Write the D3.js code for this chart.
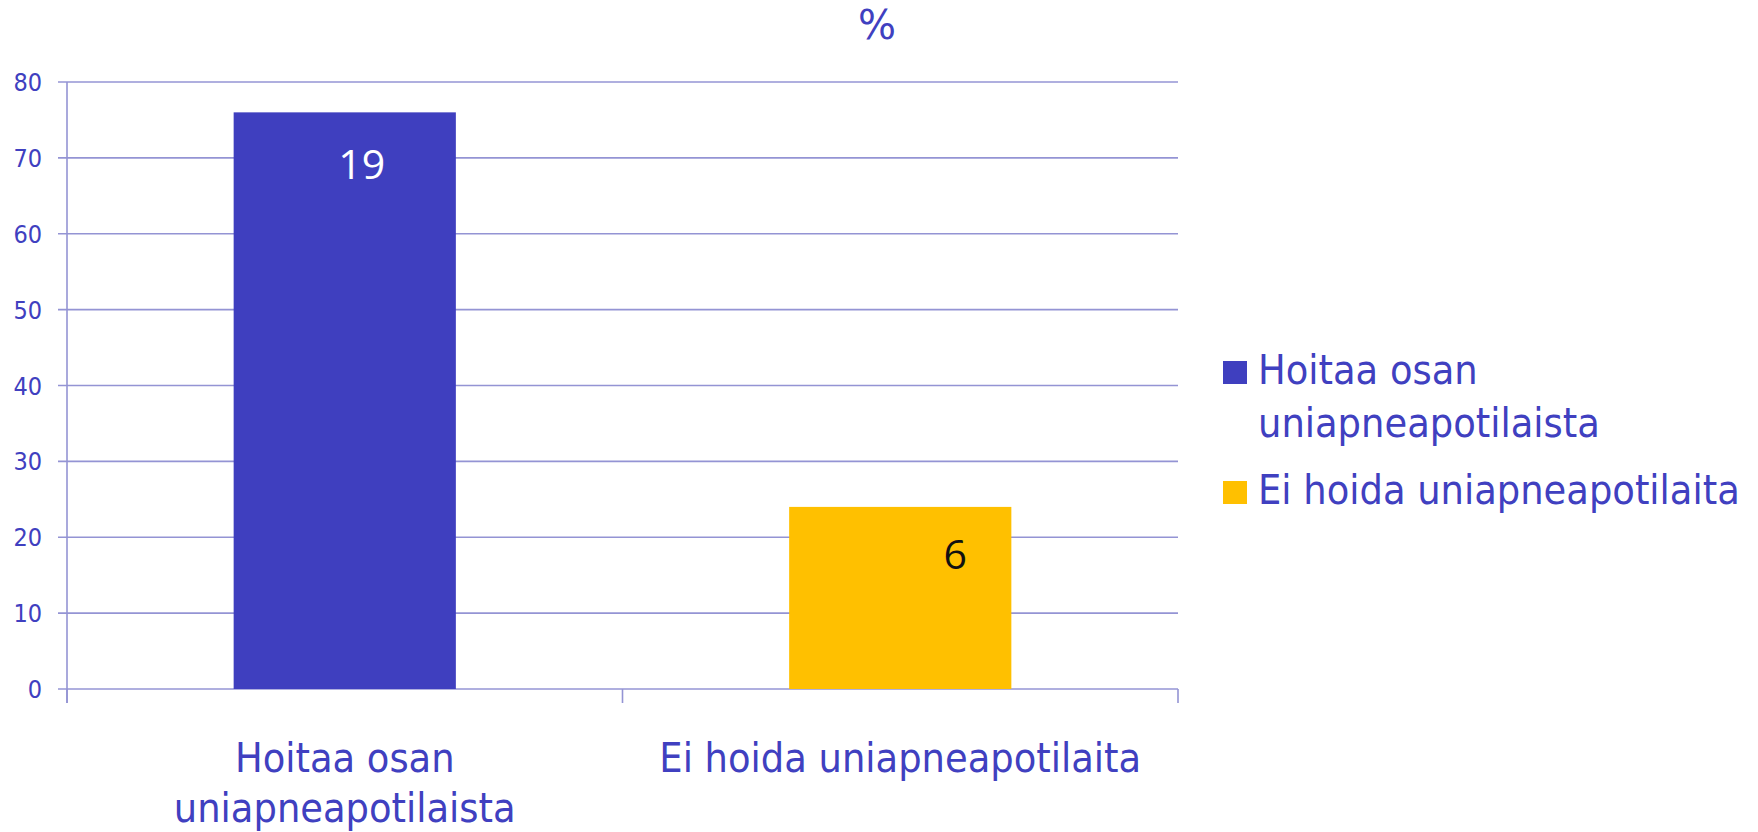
<!DOCTYPE html>
<html>
<head>
<meta charset="utf-8">
<script src="https://cdn.jsdelivr.net/npm/d3@7"></script>
<style>
  body { margin: 0; background: #fff; }
  svg { display: block; }
  text { font-family: "DejaVu Sans Condensed", "DejaVu Sans", sans-serif; font-stretch: condensed; fill: #4040c0; }
</style>
</head>
<body>
<div id="chart"></div>
<script>
// chart data
const categories = ["Hoitaa osan uniapneapotilaista", "Ei hoida uniapneapotilaita"];
const categoryLines = [["Hoitaa osan", "uniapneapotilaista"], ["Ei hoida uniapneapotilaita"]];
const percentValues = [76, 24];
const countLabels = ["19", "6"];
const yTicks = [0, 10, 20, 30, 40, 50, 60, 70, 80];
const titleText = "%";

class BarChart {
	constructor(){
		this.width = 1758;
		this.height = 832;
		this.plot = {left: 67, right: 1178, top: 82, bottom: 689};
		this.initVis();
	}

	initVis() {
		let vis = this;

		vis.svg = d3.select("#chart")
			.append("svg")
			  .attr("width", vis.width)
			  .attr("height", vis.height);

		vis.xScale = d3.scaleBand()
			.domain(categories)
			.range([vis.plot.left, vis.plot.right])
			.paddingInner(0.6)
			.paddingOuter(0.3);

		vis.yScale = d3.scaleLinear()
			.domain([0, 80])
			.range([vis.plot.bottom, vis.plot.top]);

		vis.color = d3.scaleOrdinal()
			.domain(categories)
			.range(["#3f3fbf", "#ffc000"]);

		vis.renderVis();
	}

	renderVis() {
		let vis = this;
		let gridColor = "#9494d4";

		// gridlines + y ticks
		vis.svg.append("g")
			.selectAll("line")
			.data(yTicks)
			.join("line")
			  .attr("x1", vis.plot.left - 9)
			  .attr("x2", vis.plot.right)
			  .attr("y1", d => vis.yScale(d))
			  .attr("y2", d => vis.yScale(d))
			  .attr("stroke", gridColor)
			  .attr("stroke-width", 1.6);

		vis.svg.append("g")
			.selectAll("text")
			.data(yTicks)
			.join("text")
			  .attr("x", 42)
			  .attr("y", d => vis.yScale(d))
			  .attr("dy", "0.36em")
			  .attr("text-anchor", "end")
			  .style("font-size", "25px")
			  .text(d => d);

		// y axis line
		vis.svg.append("line")
			.attr("x1", vis.plot.left).attr("x2", vis.plot.left)
			.attr("y1", vis.plot.top).attr("y2", vis.plot.bottom + 14)
			.attr("stroke", gridColor)
			.attr("stroke-width", 1.6);

		// x axis ticks at category edges
		let edges = categories.map(c => vis.xScale(c) - vis.xScale.step() * vis.xScale.paddingOuter())
			.concat([vis.plot.right]);
		vis.svg.append("g")
			.selectAll("line")
			.data(edges)
			.join("line")
			  .attr("x1", d => d).attr("x2", d => d)
			  .attr("y1", vis.plot.bottom)
			  .attr("y2", vis.plot.bottom + 14)
			  .attr("stroke", gridColor)
			  .attr("stroke-width", 1.6);

		// bars
		vis.svg.append("g")
			.selectAll("rect")
			.data(categories)
			.join("rect")
			  .attr("x", d => vis.xScale(d))
			  .attr("y", (d, i) => vis.yScale(percentValues[i]))
			  .attr("width", vis.xScale.bandwidth())
			  .attr("height", (d, i) => vis.yScale(0) - vis.yScale(percentValues[i]))
			  .style("fill", d => vis.color(d));

		// value labels inside the bars
		let labelDx = [17, 55];
		let labelDy = [67, 62];
		vis.svg.append("g")
			.selectAll("text")
			.data(categories)
			.join("text")
			  .attr("x", (d, i) => vis.xScale(d) + vis.xScale.bandwidth() / 2 + labelDx[i])
			  .attr("y", (d, i) => vis.yScale(percentValues[i]) + labelDy[i])
			  .attr("text-anchor", "middle")
			  .style("font-family", "'Open Sans', 'Noto Sans', sans-serif")
			  .style("font-stretch", "normal")
			  .style("font-size", "41px")
			  .style("fill", (d, i) => i === 0 ? "#ffffff" : "#111111")
			  .text((d, i) => countLabels[i]);

		// category labels
		let xLab = vis.svg.append("g")
			.selectAll("text")
			.data(categories)
			.join("text")
			  .attr("x", d => vis.xScale(d) + vis.xScale.bandwidth() / 2)
			  .attr("y", 772)
			  .attr("text-anchor", "middle")
			  .style("font-size", "41px");
		xLab.selectAll("tspan")
			.data((d, i) => categoryLines[i])
			.join("tspan")
			  .attr("x", function() { return this.parentNode.getAttribute("x"); })
			  .attr("dy", (d, j) => j === 0 ? 0 : 50)
			  .text(d => d);

		// title
		vis.svg.append("text")
			.attr("x", vis.width / 2 - 2)
			.attr("y", 39)
			.attr("text-anchor", "middle")
			.style("font-stretch", "normal")
			.style("font-family", "'DejaVu Sans', sans-serif")
			.style("font-size", "40px")
			.text(titleText);

		// legend
		let legendTop = [384, 504];
		let legend = vis.svg.append("g")
			.selectAll("g")
			.data(categories)
			.join("g")
			  .attr("transform", (d, i) => `translate(1223, ${legendTop[i]})`);

		legend.append("rect")
			.attr("x", 0)
			.attr("y", -23)
			.attr("width", 24)
			.attr("height", 23)
			.style("fill", d => vis.color(d));

		legend.append("text")
			.attr("x", 35)
			.attr("y", 0)
			.style("font-size", "41px")
			.selectAll("tspan")
			.data((d, i) => categoryLines[i])
			.join("tspan")
			  .attr("x", 35)
			  .attr("dy", (d, j) => j === 0 ? 0 : 53)
			  .text(d => d);
	}
}

new BarChart();
</script>
</body>
</html>
